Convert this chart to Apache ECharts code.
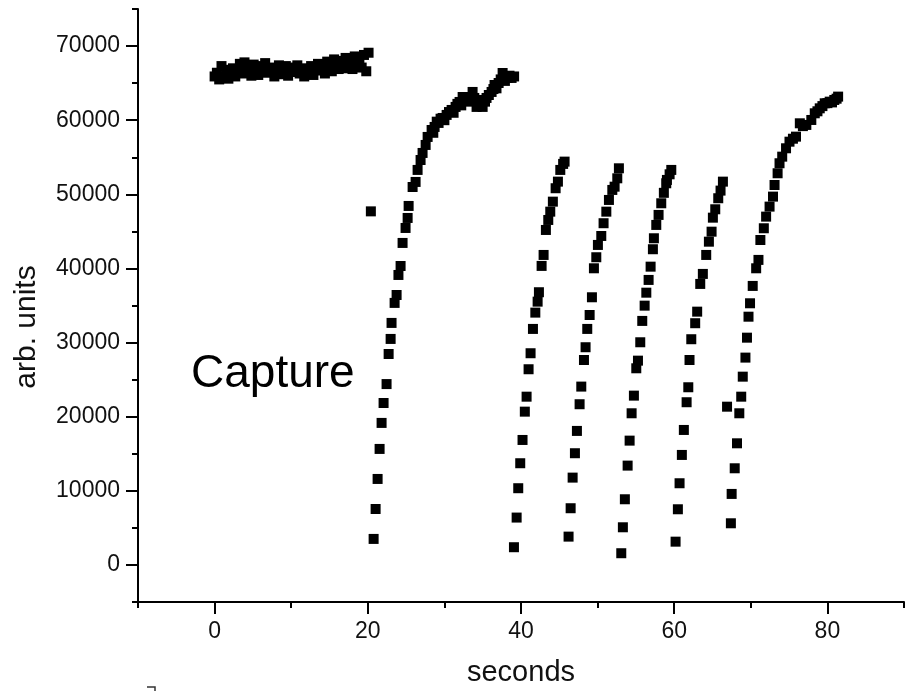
<!DOCTYPE html>
<html>
<head>
<meta charset="utf-8">
<script src="https://cdn.jsdelivr.net/npm/echarts@6/dist/echarts.min.js"></script>
<style>
html,body{margin:0;padding:0;background:#fff;}
#chart{width:905px;height:691px;}
</style>
</head>
<body>
<div id="chart"></div>
<script>
// ---- Data (seconds, arb. units) ----
const baselineT = [0.0,0.3,0.6,0.9,1.2,1.5,1.8,2.1,2.4,2.7,3.0,3.3,3.6,3.9,4.2,4.5,4.8,5.1,5.4,5.7,6.0,6.3,6.6,6.9,7.2,7.5,7.8,8.1,8.4,8.7,9.0,9.3,9.6,9.9,10.2,10.5,10.8,11.1,11.4,11.7,12.0,12.3,12.6,12.9,13.2,13.5,13.8,14.1,14.4,14.7,15.0,15.3,15.6,15.9,16.2,16.5,16.8,17.1,17.4,17.7,18.0,18.3,18.6,18.9,19.2,19.5,19.8,20.1];
const baselineV = [65900,66400,65500,67300,65800,66200,65600,66800,67000,65900,66500,67600,66300,67800,66900,67200,66000,67500,66600,66100,67300,66800,67700,66400,67100,66900,65900,66700,67400,66200,66900,67300,66000,66600,67100,66500,67400,66300,66800,65900,67000,66400,67300,66100,66800,67600,66700,67200,66300,67900,67100,66600,68200,67400,66900,68000,67300,68400,67000,68100,66900,68600,67600,68300,67100,68800,66600,69100];

const captureRun = [
  [20.4,47700],
  [20.76,3510],[21.02,7550],[21.28,11600],[21.54,15650],[21.8,19160],[22.06,21850],[22.45,24400],[22.72,28460],[22.98,30490],[23.1,32650],[23.5,35350],[23.76,36420],[24.0,39120],[24.28,40330],
  [24.54,43440],[24.93,45460],[25.2,46810],[25.33,48430],[25.85,50990],[26.24,51670],[26.5,53290],[26.89,54630],[27.15,55580],[27.55,56660],[27.81,57740],
  [28.33,58680],[28.55,58300],[28.72,59090],[29.0,59800],[29.24,59630],[29.5,60200],[29.77,60300],[30.0,60000],[30.29,60710],[30.6,61100],[30.94,61380],[31.2,61000],[31.46,61790],[31.7,62200],[31.98,62460],[32.2,62000],[32.38,63130],[32.7,62600],[33.03,63130],[33.3,62500],[33.68,63810],[33.9,63000],[34.2,61790],[34.6,62730],[34.99,61790],[35.3,62500],[35.5,63000],[35.8,63400],[36.16,63810],[36.4,64200],[36.55,64750],[36.8,64300],[37.08,65020],[37.35,65500],[37.6,66370],[37.9,65300],[38.25,65700],[38.5,66000],[38.77,65700],[39.1,65900]
];

const run3 = [[39.08,2390],[39.43,6390],[39.64,10350],[39.9,13720],[40.2,16860],[40.5,20680],[40.73,22700],[40.99,26400],[41.25,28560],[41.56,31840],[41.87,34040],[42.17,35520],[42.34,36790],[42.69,40340],[42.95,41820],[43.25,45190],[43.56,46540],[43.82,47660],[44.16,49010],[44.52,50820],[44.82,51710],[45.13,53290],[45.5,54100],[45.69,54410]];

const run4 = [[46.21,3820],[46.48,7650],[46.74,11780],[47.04,15070],[47.3,18080],[47.65,21680],[47.87,24060],[48.22,27650],[48.43,29370],[48.65,31840],[48.96,33720],[49.26,36110],[49.52,40020],[49.83,41510],[50.04,43170],[50.48,44380],[50.78,46100],[51.14,47660],[51.48,49240],[51.92,50590],[52.22,51030],[52.57,52160],[52.78,53510]];

const run5 = [[53.09,1580],[53.3,5080],[53.56,8860],[53.92,13400],[54.18,16770],[54.44,20460],[54.74,22840],[55.05,26530],[55.27,27560],[55.57,30040],[55.83,32920],[56.14,34980],[56.36,36730],[56.66,38450],[56.92,40240],[57.22,42590],[57.35,44070],[57.66,45870],[57.96,47220],[58.31,48790],[58.65,50200],[58.96,51490],[59.05,51940],[59.4,52700],[59.62,53290]];

const run6 = [[60.18,3140],[60.48,7510],[60.7,11020],[61.0,14840],[61.26,18210],[61.62,21950],[61.84,23970],[62.0,27650],[62.23,30450],[62.74,32610],[63.0,34170],[63.4,37910],[63.74,39260],[64.18,41820],[64.53,43610],[64.88,44960],[65.05,46850],[65.36,47980],[65.75,49470],[66.05,50500],[66.36,51710]];

const run7 = [[66.9,21350],[67.4,5620],[67.5,9580],[67.9,13040],[68.2,16410],[68.5,20460],[68.75,22700],[68.95,25400],[69.3,27970],[69.5,30660],[69.7,33490],[69.9,35300],[70.25,37640],[70.7,40020],[71.0,41150],[71.25,43840],[71.7,45420],[72.0,46990],[72.45,48340],[72.9,49690],[73.1,51260],[73.5,52840],[73.75,54190],[74.1,55080],[74.6,56210],[75.05,57100],[75.5,57500],[75.9,57780],[76.4,59580],[76.8,59200],[77.25,59360],[77.9,60030],[78.35,60930],[78.7,61200],[79.0,61600],[79.35,61900],[79.65,62280],[80.0,62300],[80.3,62500],[80.6,62400],[80.9,62730],[81.2,62900],[81.4,63180]];

// ---- Axis ticks ----
const xMajorTicks = [0,20,40,60,80];
const xMinorTicks = [-10,10,30,50,70,90];
const yMajorTicks = [0,10000,20000,30000,40000,50000,60000,70000];
const yMinorTicks = [-5000,5000,15000,25000,35000,45000,55000,65000,75000];

const FONT = '"Liberation Sans", Arial, Helvetica, sans-serif';
const chart = echarts.init(document.getElementById('chart'), null, {renderer:'canvas'});

const baseline = baselineT.map((t,i)=>[t, baselineV[i]]);
const runs = [baseline, captureRun, run3, run4, run5, run6, run7];

const axisLineStyle = {color:'#000', width:2};
const plain = v => String(v);
chart.setOption({
  animation:false,
  backgroundColor:'#fff',
  grid:{left:138, right:1, top:9, bottom:89},
  xAxis:[{
    type:'value', min:-10, max:90, position:'bottom',
    axisLine:{show:true, lineStyle:axisLineStyle, onZero:false},
    axisTick:{show:true, customValues:xMajorTicks, length:12, lineStyle:{color:'#000', width:2}},
    axisLabel:{show:true, customValues:xMajorTicks, formatter:plain, fontSize:23, fontFamily:FONT, color:'#111', margin:18},
    splitLine:{show:false}
  },{
    type:'value', min:-10, max:90, position:'bottom', gridIndex:0,
    axisLine:{show:false, onZero:false},
    axisTick:{show:true, customValues:xMinorTicks, length:6, lineStyle:{color:'#000', width:2}},
    axisLabel:{show:false},
    splitLine:{show:false}
  }],
  yAxis:[{
    type:'value', min:-5000, max:75000, position:'left',
    axisLine:{show:true, lineStyle:axisLineStyle, onZero:false},
    axisTick:{show:true, customValues:yMajorTicks, length:12, lineStyle:{color:'#000', width:2}},
    axisLabel:{show:true, customValues:yMajorTicks, formatter:plain, fontSize:23, fontFamily:FONT, color:'#111', margin:18},
    splitLine:{show:false}
  },{
    type:'value', min:-5000, max:75000, position:'left', gridIndex:0,
    axisLine:{show:false, onZero:false},
    axisTick:{show:true, customValues:yMinorTicks, length:6, lineStyle:{color:'#000', width:2}},
    axisLabel:{show:false},
    splitLine:{show:false}
  }],
  series: runs.map(r=>({
    type:'scatter', xAxisIndex:0, yAxisIndex:0, data:r,
    symbol:'rect', symbolSize:10, itemStyle:{color:'#000', opacity:1}, silent:true
  })),
  graphic:[
    {type:'text', x:27, y:327, rotation:Math.PI/2,
     style:{text:'arb. units', font:'30px '+FONT, fill:'#111', align:'center', verticalAlign:'middle'}},
    {type:'text', x:521, y:673,
     style:{text:'seconds', font:'29px '+FONT, fill:'#111', align:'center', verticalAlign:'middle'}},
    {type:'text', x:191, y:374,
     style:{text:'Capture', font:'46px '+FONT, fill:'#000', align:'left', verticalAlign:'middle'}},
    {type:'polyline', shape:{points:[[147,687],[155,687],[155,691]]}, style:{stroke:'#333', lineWidth:1.5, fill:null}}
  ]
});
</script>
</body>
</html>
